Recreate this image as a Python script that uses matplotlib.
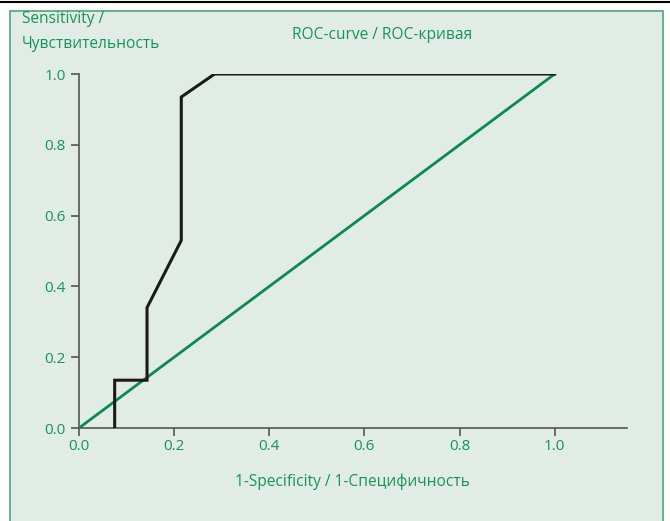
import matplotlib.pyplot as plt
from matplotlib.patches import Rectangle
from matplotlib.lines import Line2D

# ROC curve points
fpr = [0.075, 0.075, 0.143, 0.143, 0.215, 0.215, 0.285, 1.0]
tpr = [0.0, 0.135, 0.135, 0.34, 0.53, 0.935, 1.0, 1.0]
diag_x = [0.0, 1.0]
diag_y = [0.0, 1.0]
ticks = [0.0, 0.2, 0.4, 0.6, 0.8, 1.0]

green = '#17935a'
bg = '#e0ece5'
plt.rcParams['font.family'] = ['Open Sans', 'DejaVu Sans']

fig = plt.figure(figsize=(6.7, 5.21), dpi=100)
fig.patch.set_facecolor('white')

# panel background with green border
fig.patches.append(Rectangle((10 / 670, -0.05), 653 / 670, 1.05 - 11 / 521,
                             transform=fig.transFigure, facecolor=bg,
                             edgecolor='#4aa77a', linewidth=1.2, zorder=-5))
fig.lines.append(Line2D([0, 1], [1 - 2 / 521, 1 - 2 / 521], transform=fig.transFigure,
                        color='black', linewidth=1.5, zorder=-4))

ax = fig.add_axes([79 / 670, 1 - 428 / 521, (627 - 79) / 670, (428 - 74) / 521])
ax.set_facecolor('none')
ax.set_zorder(2)

ax.plot(diag_x, diag_y, color='#0a8a4f', linewidth=2, solid_capstyle='butt', zorder=3)
ax.plot(fpr, tpr, color='#1a1a1a', linewidth=2.2, solid_joinstyle='miter', zorder=4)

ax.set_xlim(0, 1.152)
ax.set_ylim(0, 1.0)
ax.set_xticks(ticks)
ax.set_yticks(ticks)
ax.set_xticklabels([f'{t:.1f}' for t in ticks])
ax.set_yticklabels([f'{t:.1f}' for t in ticks])
for s in ['top', 'right']:
    ax.spines[s].set_visible(False)
for s in ['left', 'bottom']:
    ax.spines[s].set_color('#555555')
    ax.spines[s].set_linewidth(1.2)
ax.tick_params(colors='#555555', labelcolor=green, labelsize=11, length=6, width=1.2)
ax.tick_params(axis='x', pad=2)

fs = 11.2
fig.text(22 / 670, 1 - 19 / 521, 'Sensitivity /', color=green,
         fontsize=fs, ha='left', va='center')
fig.text(22 / 670, 1 - 44 / 521, 'Чувствительность', color=green,
         fontsize=fs, ha='left', va='center')
fig.text(382 / 670, 1 - 35 / 521, 'ROC-curve / ROC-кривая', color=green,
         fontsize=fs, ha='center', va='center')
fig.text(352 / 670, 1 - 482 / 521, '1-Specificity / 1-Специфичность', color=green,
         fontsize=fs, ha='center', va='center')

fig.savefig('out.png', dpi=100)
